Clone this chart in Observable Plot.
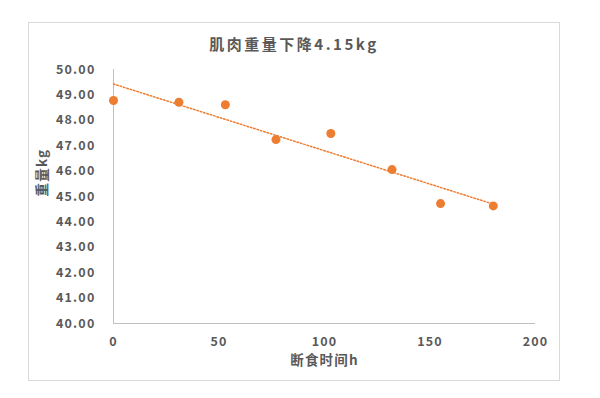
<!DOCTYPE html>
<html>
<head>
<meta charset="utf-8">
<script src="https://cdn.jsdelivr.net/npm/d3@7"></script>
<script src="https://cdn.jsdelivr.net/npm/@observablehq/plot@0.6"></script>
<style>
  body { margin: 0; background: #fff; width: 600px; height: 398px; overflow: hidden; font-family: "Noto Sans CJK SC", "Noto Sans", sans-serif; }
  #frame { position: absolute; left: 28px; top: 22px; width: 532px; height: 359px; border: 1px solid #d9d9d9; box-sizing: border-box; }
  #title { position: absolute; left: 28px; width: 532px; top: 33px; text-align: center; font-size: 15px; font-weight: 700; color: #595959; line-height: 22px; letter-spacing: 2.5px; }
  #chart { position: absolute; left: 0; top: 60px; }
  #chart svg text { font-weight: 700; fill: #595959; letter-spacing: 1.2px; }
</style>
</head>
<body>
<div id="frame"></div>
<div id="title">肌肉重量下降4.15kg</div>
<div id="chart"></div>
<script>
const hours = [0, 31, 53, 77, 103, 132, 155, 180];
const weights = [48.78, 48.71, 48.61, 47.24, 47.48, 46.06, 44.72, 44.63];
const xTicks = [0, 50, 100, 150, 200];
const yTicks = [40, 41, 42, 43, 44, 45, 46, 47, 48, 49, 50];
const xTitle = "断食时间h";
const yTitle = "重量kg";

const data = hours.map((h, i) => ({h, w: weights[i]}));
const orange = "#ED7D31";

const chart = Plot.plot({
  width: 600,
  height: 330,
  marginLeft: 113,
  marginRight: 65,
  marginTop: 9,
  marginBottom: 67,
  style: { fontSize: "12.5px", fontFamily: "'Noto Sans CJK SC', 'Noto Sans', sans-serif", color: "#595959", background: "transparent" },
  x: { domain: [0, 200], ticks: xTicks, tickSize: 0, tickPadding: 14, label: null },
  y: { domain: [40, 50], ticks: yTicks, tickSize: 0, tickPadding: 18, tickFormat: d3.format(".2f"), label: null },
  marks: [
    Plot.ruleX([0], { stroke: "#bfbfbf", strokeWidth: 1 }),
    Plot.ruleY([40], { stroke: "#bfbfbf", strokeWidth: 1 }),
    Plot.linearRegressionY(data, { x: "h", y: "w", stroke: orange, strokeWidth: 1.5, strokeDasharray: "1.5,2", ci: 0 }),
    Plot.dot(data, { x: "h", y: "w", r: 4.5, fill: orange, stroke: "none" }),
    Plot.text([xTitle], { frameAnchor: "bottom", dy: 41, fontSize: 13.5, letterSpacing: 2 }),
    Plot.text([yTitle], { frameAnchor: "left", rotate: -90, dx: -71, fontSize: 13.5 })
  ]
});
document.getElementById("chart").appendChild(chart);
</script>
</body>
</html>
